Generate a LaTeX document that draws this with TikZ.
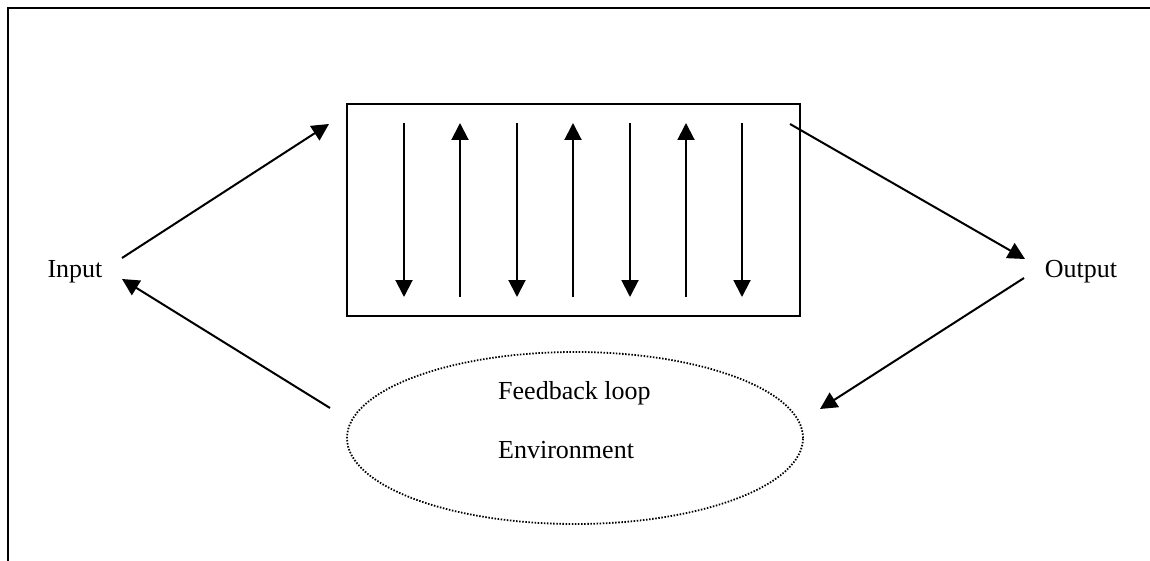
\documentclass[tikz,border=0pt]{standalone}
\usepackage{fontspec}
\setmainfont{Liberation Serif}
\usetikzlibrary{arrows.meta,shapes.geometric}
\begin{document}
\begin{tikzpicture}[x=1pt,y=-1pt,
  flow/.style={line width=2pt,-{Triangle[length=17pt,width=17pt]}},
  label/.style={font=\fontsize{26}{30}\selectfont,inner sep=0pt},
  sysbox/.style={draw,line width=2pt,minimum width=453pt,minimum height=212pt,inner sep=0pt},
  envelope/.style={draw,ellipse,line width=1.8pt,dash pattern=on 1.5pt off 1.6pt,
    minimum width=456pt,minimum height=172pt,inner sep=0pt}]
\useasboundingbox (0,0) rectangle (1150,561);
% outer frame (left and top edges)
\draw[line width=2.2pt] (8,561) -- (8,8) -- (1150,8);

% main blocks
\node[sysbox] (sys) at (573.5,210) {};
\node[envelope] (env) at (575,438) {};
\node[label] (in) at (75,272) {Input};
\node[label] (out) at (1081,272) {Output};
\node[label,anchor=west] (fb) at (498,393) {Feedback loop};
\node[label,anchor=west] (envtxt) at (498,450) {Environment};

% connector end points around the blocks
\coordinate (inA) at (122,258);
\coordinate (sysIn) at (329,124);
\coordinate (sysOut) at (790,124);
\coordinate (outA) at (1025,259);
\coordinate (outB) at (1024,278);
\coordinate (envIn) at (820,409);
\coordinate (envOut) at (330,408);
\coordinate (inB) at (122,279);

\draw[flow] (inA) -- (sysIn);
\draw[flow] (sysOut) -- (outA);
\draw[flow] (outB) -- (envIn);
\draw[flow] (envOut) -- (inB);

% vertical flow arrows inside the box
\foreach \i/\x in {1/404,3/517,5/630,7/742} {
  \coordinate (t\i) at (\x,123);
  \coordinate (b\i) at (\x,297);
  \draw[flow] (t\i) -- (b\i);
}
\foreach \i/\x in {2/460,4/573,6/686} {
  \coordinate (t\i) at (\x,123);
  \coordinate (b\i) at (\x,297);
  \draw[flow] (b\i) -- (t\i);
}
\end{tikzpicture}
\end{document}
